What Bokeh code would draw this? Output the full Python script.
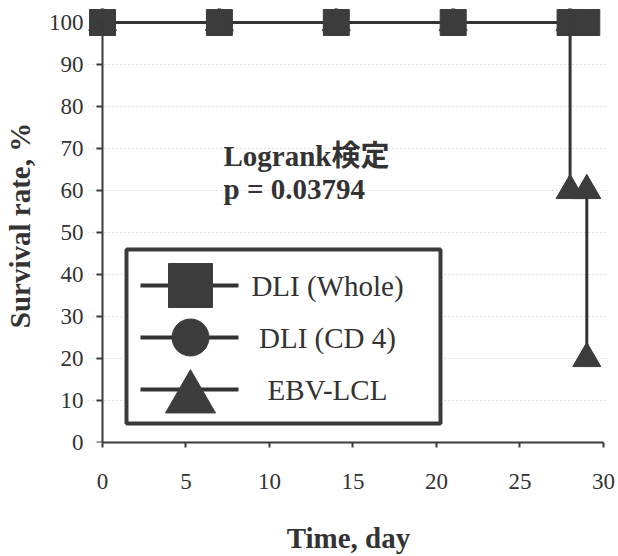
import math
from bokeh.plotting import figure
from bokeh.models import Range1d, LinearAxis, Label, FixedTicker, Grid
from bokeh.core.properties import value
from bokeh.embed import file_html
from bokeh.resources import INLINE

# ---- data ----
whole_days = [0, 7, 14, 21, 28, 29]
whole_surv = [100, 100, 100, 100, 100, 100]
cd4_days = [0, 7, 14, 21, 28, 29]
cd4_surv = [100, 100, 100, 100, 100, 100]
ebv_days = [0, 7, 14, 21, 28, 28, 29, 29]          # Kaplan-Meier step vertices
ebv_surv = [100, 100, 100, 100, 100, 60, 60, 20]

series_names = ["DLI (Whole)", "DLI (CD 4)", "EBV-LCL"]
series_markers = ["square", "circle", "triangle"]
x_ticks = [0, 5, 10, 15, 20, 25, 30]
y_ticks = [0, 10, 20, 30, 40, 50, 60, 70, 80, 90, 100]
annotation_lines = ["Logrank検定", "p = 0.03794"]
x_title = "Time, day"
y_title = "Survival rate, %"

# ---- style ----
INK = "#333333"
MARK = "#3c3c3c"
AX = "#3a3a3a"
SERIF = "Liberation Serif"
CJK = "Liberation Serif, Noto Sans CJK JP"

W, H = 616, 556
FL, FR, FT, FB = 88, 608, 8, 442          # frame edges on the canvas (px)
p = figure(width=W, height=H, output_backend="svg", toolbar_location=None,
           x_range=Range1d(-0.837, 30.3), y_range=Range1d(0, 103.33),
           x_axis_type=None, y_axis_type=None,
           min_border_left=FL, min_border_right=W - FR,
           min_border_top=FT, min_border_bottom=H - FB)
p.outline_line_color = None
p.background_fill_color = "white"
p.border_fill_color = "white"

# canvas-pixel coordinate frame for layout items (legend, annotation)
p.extra_x_ranges = {"px": Range1d(FL, FR)}
p.extra_y_ranges = {"px": Range1d(FB, FT)}


def style_labels(ax, size="23px"):
    ax.major_label_text_font = SERIF
    ax.major_label_text_font_size = size
    ax.major_label_text_color = INK
    ax.axis_label_text_font = SERIF
    ax.axis_label_text_font_size = "29px"
    ax.axis_label_text_font_style = "bold"
    ax.axis_label_text_color = INK


# y axis rule + ticks at x = 0 (its own labels are not drawn)
yrule = LinearAxis(ticker=FixedTicker(ticks=y_ticks), fixed_location=0, bounds=(0, 100))
yrule.axis_line_width = 2
yrule.axis_line_color = AX
yrule.major_tick_out = 6
yrule.major_tick_in = 0
yrule.major_tick_line_width = 2
yrule.major_tick_line_color = AX
yrule.minor_tick_out = 0
yrule.minor_tick_in = 0
yrule.major_label_standoff = 0
yrule.major_label_text_color = None
p.add_layout(yrule, "left")

# y tick labels + title
ylab = LinearAxis(ticker=FixedTicker(ticks=y_ticks), axis_label=y_title)
ylab.axis_line_color = None
ylab.major_tick_line_color = None
ylab.minor_tick_line_color = None
ylab.major_tick_out = 0
ylab.major_tick_in = 0
ylab.minor_tick_out = 0
ylab.minor_tick_in = 0
ylab.major_label_standoff = 5
ylab.axis_label_standoff = 10
style_labels(ylab)
p.add_layout(ylab, "left")

# x axis
xaxis = LinearAxis(ticker=FixedTicker(ticks=x_ticks), bounds=(0, 30), axis_label=x_title)
xaxis.axis_line_width = 2
xaxis.axis_line_color = AX
xaxis.major_tick_out = 5
xaxis.major_tick_in = 0
xaxis.major_tick_line_width = 2
xaxis.major_tick_line_color = AX
xaxis.minor_tick_out = 0
xaxis.minor_tick_in = 0
xaxis.major_label_standoff = 26
xaxis.axis_label_standoff = 30
style_labels(xaxis)
p.add_layout(xaxis, "below")

grid = Grid(dimension=1, ticker=FixedTicker(ticks=y_ticks[1:-1]))
grid.grid_line_color = "#bdbdbd"
grid.grid_line_dash = "1 3"
grid.grid_line_width = 1
p.add_layout(grid)

# ---- series ----
p.line(ebv_days, ebv_surv, line_color=INK, line_width=3)
p.scatter(ebv_days, ebv_surv, marker="triangle", size=28, fill_color=MARK, line_color=MARK)
p.line(cd4_days, cd4_surv, line_color=INK, line_width=3)
p.scatter(cd4_days, cd4_surv, marker="circle", size=24, fill_color=MARK, line_color=MARK)
p.line(whole_days, whole_surv, line_color=INK, line_width=3)
p.scatter(whole_days, whole_surv, marker="square", size=26, fill_color=MARK, line_color=MARK)

# ---- annotation text ----
for i, txt in enumerate(annotation_lines):
    p.add_layout(Label(x=223, y=155 + 33 * i, x_range_name="px", y_range_name="px",
                       text=txt, text_font=CJK, text_font_size="29px",
                       text_font_style="bold", text_color=INK,
                       text_align="left", text_baseline="middle"))

# ---- custom legend (layout in canvas pixels) ----
LEG_L, LEG_R, LEG_T, LEG_B = 124, 442, 247, 425
BW = 4
ROW0, PITCH = 285, 52
LX0, LX1, MX, TX = 140, 238, 190, 327
sizes = [44, 37, 50]
dy = [0, 0, 9]
p.quad(left=[LEG_L + BW / 2], right=[LEG_R - BW / 2], top=[LEG_T + BW / 2], bottom=[LEG_B - BW / 2],
       x_range_name="px", y_range_name="px", fill_color="white",
       line_color=AX, line_width=BW)
rows = [ROW0 + PITCH * i for i in range(len(series_names))]
p.segment(x0=[LX0] * 3, x1=[LX1] * 3, y0=rows, y1=rows, x_range_name="px", y_range_name="px",
          line_color=INK, line_width=4)
for i, m in enumerate(series_markers):
    p.scatter([MX], [rows[i] + dy[i]], marker=m, size=sizes[i], fill_color=MARK, line_color=MARK,
              x_range_name="px", y_range_name="px")
p.text(x=[TX] * 3, y=rows, text=series_names, x_range_name="px", y_range_name="px",
       text_font=value(SERIF), text_font_size=value("29px"), text_color=INK,
       text_align="center", text_baseline="middle")

open("out.html", "w").write(file_html(p, INLINE))
